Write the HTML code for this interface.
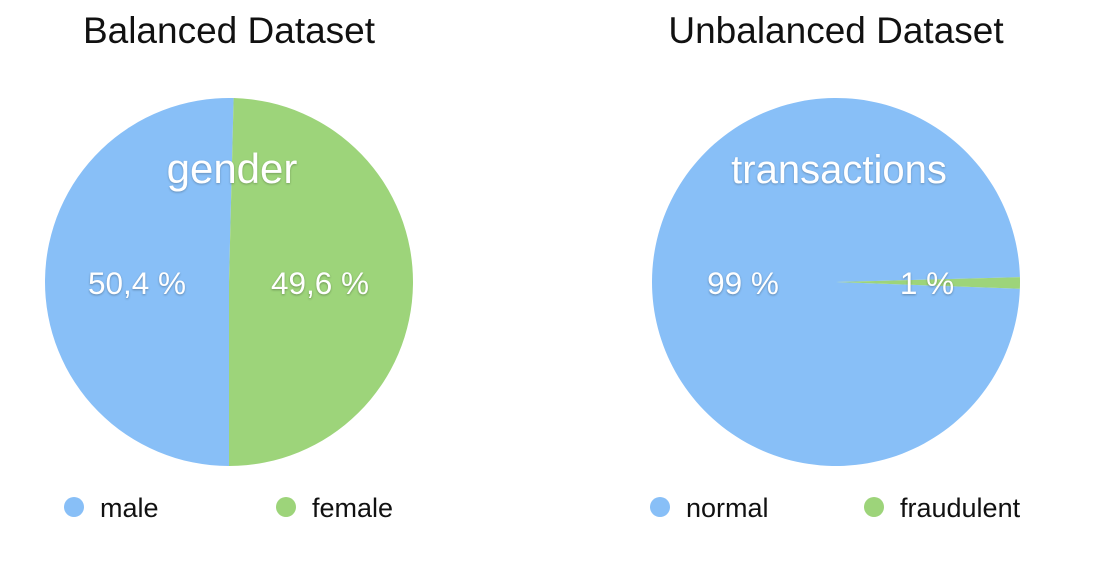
<!DOCTYPE html>
<html><head><meta charset="utf-8">
<style>
html,body{margin:0;padding:0;background:#fff;}
body{width:1100px;height:561px;overflow:hidden;font-family:"Liberation Sans",sans-serif;}
svg text{font-family:"Liberation Sans",sans-serif;}
</style></head>
<body>
<svg id="chart" width="1100" height="561">
<text x="229" y="43" font-size="37" text-anchor="middle" fill="#111">Balanced Dataset</text>
<text x="836" y="43" font-size="37" text-anchor="middle" fill="#111">Unbalanced Dataset</text>
<g id="pie1"></g>
<g id="pie2"></g>
</svg>
<script>
const leftCategories = ["male", "female"];
const leftValues = [50.4, 49.6];
const leftLabels = ["50,4 %", "49,6 %"];
const rightCategories = ["normal", "fraudulent"];
const rightValues = [99, 1];
const rightLabels = ["99 %", "1 %"];
const colors = ["#88bff7", "#9dd47a"];
const NS = "http://www.w3.org/2000/svg";

function drawPie(gid, cats, vals, labs, title, titleSize, cx, cy, r, startDeg, labelPos, legendX) {
  const g = document.getElementById(gid);
  const total = vals.reduce((a, b) => a + b, 0);
  let a = startDeg;
  vals.forEach((v, i) => {
    const sweep = v / total * 360;
    const a0 = a * Math.PI / 180, a1 = (a + sweep) * Math.PI / 180;
    const x0 = cx + r * Math.cos(a0), y0 = cy + r * Math.sin(a0);
    const x1 = cx + r * Math.cos(a1), y1 = cy + r * Math.sin(a1);
    const p = document.createElementNS(NS, "path");
    p.setAttribute("d", `M${cx},${cy} L${x0},${y0} A${r},${r} 0 ${sweep > 180 ? 1 : 0} 1 ${x1},${y1} Z`);
    p.setAttribute("fill", colors[i]);
    
    
    g.appendChild(p);
    a += sweep;
  });
  const t = document.createElementNS(NS, "text");
  t.setAttribute("x", cx + 3); t.setAttribute("y", cy - 99);
  t.setAttribute("font-size", titleSize); t.setAttribute("fill", "#fff");
  t.setAttribute("text-anchor", "middle");
  t.setAttribute("style", "text-shadow:0 1px 2px rgba(0,0,0,0.25)");
  t.textContent = title;
  
  
  g.appendChild(t);
  labs.forEach((l, i) => {
    const lt = document.createElementNS(NS, "text");
    lt.setAttribute("x", labelPos[i]); lt.setAttribute("y", cy + 12);
    lt.setAttribute("font-size", "31.5"); lt.setAttribute("fill", "#fff");
    lt.setAttribute("text-anchor", "middle");
    lt.setAttribute("style", "text-shadow:0 1px 2px rgba(0,0,0,0.3)");
    lt.textContent = l;
    
    
    g.appendChild(lt);
  });
  cats.forEach((c, i) => {
    const dot = document.createElementNS(NS, "circle");
    dot.setAttribute("cx", legendX[i]); dot.setAttribute("cy", 507); dot.setAttribute("r", 10);
    dot.setAttribute("fill", colors[i]);
    
    
    g.appendChild(dot);
    const tx = document.createElementNS(NS, "text");
    tx.setAttribute("x", legendX[i] + 26); tx.setAttribute("y", 517);
    tx.setAttribute("font-size", "27"); tx.setAttribute("fill", "#111");
    tx.textContent = c;
    
    
    g.appendChild(tx);
  });
}
drawPie("pie1", leftCategories, leftValues, leftLabels, "gender", 42, 229, 282, 184, 90, [137, 320], [74, 286]);
drawPie("pie2", rightCategories, rightValues, rightLabels, "transactions", 40, 836, 282, 184, 2.1, [743, 927], [660, 874]);
</script>
</body></html>
